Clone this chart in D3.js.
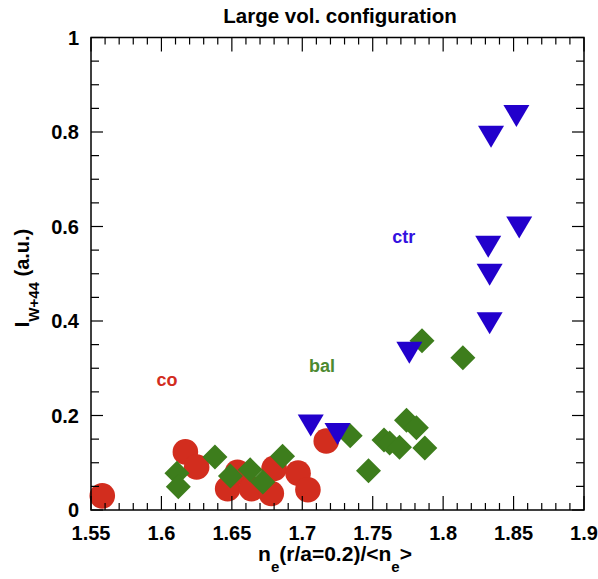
<!DOCTYPE html>
<html>
<head>
<meta charset="utf-8">
<title>Large vol. configuration</title>
<style>
  body { margin: 0; background: #fff; }
  text { font-family: "Liberation Sans", Arial, sans-serif; font-weight: bold; }
</style>
</head>
<body>
<div id="chart"></div>
<script src="https://d3js.org/d3.v7.min.js"></script>
<script>
// co (red circles)
const coX = [1.558, 1.617, 1.625, 1.647, 1.654, 1.664, 1.678, 1.680, 1.697, 1.704, 1.717];
const coY = [0.030, 0.123, 0.091, 0.045, 0.080, 0.045, 0.035, 0.088, 0.078, 0.043, 0.146];
// bal (green diamonds)
const balX = [1.611, 1.612, 1.638, 1.649, 1.663, 1.672, 1.686, 1.734, 1.747, 1.758, 1.762, 1.769, 1.774, 1.781, 1.787, 1.785, 1.814];
const balY = [0.078, 0.049, 0.112, 0.072, 0.085, 0.059, 0.114, 0.157, 0.083, 0.148, 0.142, 0.133, 0.190, 0.174, 0.131, 0.358, 0.322];
// ctr (blue triangles)
const ctrX = [1.706, 1.725, 1.776, 1.833, 1.833, 1.832, 1.834, 1.852, 1.854];
const ctrY = [0.179, 0.161, 0.333, 0.395, 0.498, 0.557, 0.790, 0.834, 0.598];

const xTicks = [1.55, 1.6, 1.65, 1.7, 1.75, 1.8, 1.85, 1.9];
const yTicks = [0, 0.2, 0.4, 0.6, 0.8, 1];

const W = 598, H = 579;
const margin = { top: 37.5, right: 14, bottom: 69, left: 91 };
const iw = W - margin.left - margin.right;
const ih = H - margin.top - margin.bottom;

const svg = d3.select("#chart").append("svg")
    .attr("width", W).attr("height", H);
const g = svg.append("g").attr("transform", `translate(${margin.left},${margin.top})`);

const x = d3.scaleLinear().domain([1.55, 1.9]).range([0, iw]);
const y = d3.scaleLinear().domain([0, 1]).range([ih, 0]);

const red = "#d22d1e", green = "#3d7d1c", blue = "#2200cc";

// markers
const co = coX.map((v, i) => [v, coY[i]]);
const bal = balX.map((v, i) => [v, balY[i]]);
const ctr = ctrX.map((v, i) => [v, ctrY[i]]);

g.selectAll(".co").data(co).enter().append("circle")
    .attr("cx", d => x(d[0])).attr("cy", d => y(d[1]))
    .attr("r", 12.8).attr("fill", red);

g.selectAll(".bal").data(bal).enter().append("path")
    .attr("transform", d => `translate(${x(d[0])},${y(d[1])})`)
    .attr("d", "M0,-12.5L12.5,0L0,12.5L-12.5,0Z")
    .attr("fill", green);

g.selectAll(".ctr").data(ctr).enter().append("path")
    .attr("transform", d => `translate(${x(d[0])},${y(d[1])})`)
    .attr("d", "M-13,-11L13,-11L0,11Z")
    .attr("fill", blue);

// frame
g.append("rect").attr("width", iw).attr("height", ih)
    .attr("fill", "none").attr("stroke", "#000").attr("stroke-width", 1.5);

// ticks (inward, all four sides)
const xMinor = d3.range(0, 36).map(i => 1.55 + i * 0.01);
const yMinor = d3.range(0, 21).map(i => i * 0.05);
const tk = g.append("g").attr("stroke", "#000").attr("stroke-width", 1.2);
xMinor.forEach((v, i) => {
  const len = i % 5 === 0 ? 14 : 7;
  tk.append("line").attr("x1", x(v)).attr("x2", x(v)).attr("y1", ih).attr("y2", ih - len);
  tk.append("line").attr("x1", x(v)).attr("x2", x(v)).attr("y1", 0).attr("y2", len);
});
yMinor.forEach((v, i) => {
  const len = i % 4 === 0 ? 12 : 8;
  tk.append("line").attr("y1", y(v)).attr("y2", y(v)).attr("x1", 0).attr("x2", len);
  tk.append("line").attr("y1", y(v)).attr("y2", y(v)).attr("x1", iw).attr("x2", iw - len);
});

// tick labels
g.selectAll(".xl").data(xTicks).enter().append("text")
    .attr("x", d => x(d)).attr("y", ih + 30)
    .attr("text-anchor", "middle").attr("font-size", 20)
    .text(d => d3.format("")(d));
g.selectAll(".yl").data(yTicks).enter().append("text")
    .attr("x", -12).attr("y", d => y(d) + 7)
    .attr("text-anchor", "end").attr("font-size", 20)
    .text(d => d3.format("")(d));

// title
svg.append("text").attr("x", 340).attr("y", 23)
    .attr("text-anchor", "middle").attr("font-size", 20.5)
    .text("Large vol. configuration");

// x label
const xl = svg.append("text").attr("x", 335).attr("y", 561)
    .attr("text-anchor", "middle").attr("font-size", 21);
xl.append("tspan").text("n");
xl.append("tspan").attr("dy", 11).attr("font-size", 15).text("e");
xl.append("tspan").attr("dy", -11).text("(r/a=0.2)/<n");
xl.append("tspan").attr("dy", 11).attr("font-size", 15).text("e");
xl.append("tspan").attr("dy", -11).text(">");

// y label
const yl = svg.append("text").attr("transform", "translate(29,278) rotate(-90)")
    .attr("text-anchor", "middle").attr("font-size", 20);
yl.append("tspan").text("I");
yl.append("tspan").attr("dy", 10).attr("font-size", 15).text("W+44");
yl.append("tspan").attr("dy", -10).text(" (a.u.)");

// series labels
g.append("text").attr("x", x(1.604)).attr("y", y(0.262))
    .attr("text-anchor", "middle").attr("font-size", 18).attr("fill", red).text("co");
g.append("text").attr("x", x(1.714)).attr("y", y(0.292))
    .attr("text-anchor", "middle").attr("font-size", 18).attr("fill", "#4c8a30").text("bal");
g.append("text").attr("x", x(1.772)).attr("y", y(0.565))
    .attr("text-anchor", "middle").attr("font-size", 18).attr("fill", "#3311e0").text("ctr");
</script>
</body>
</html>
